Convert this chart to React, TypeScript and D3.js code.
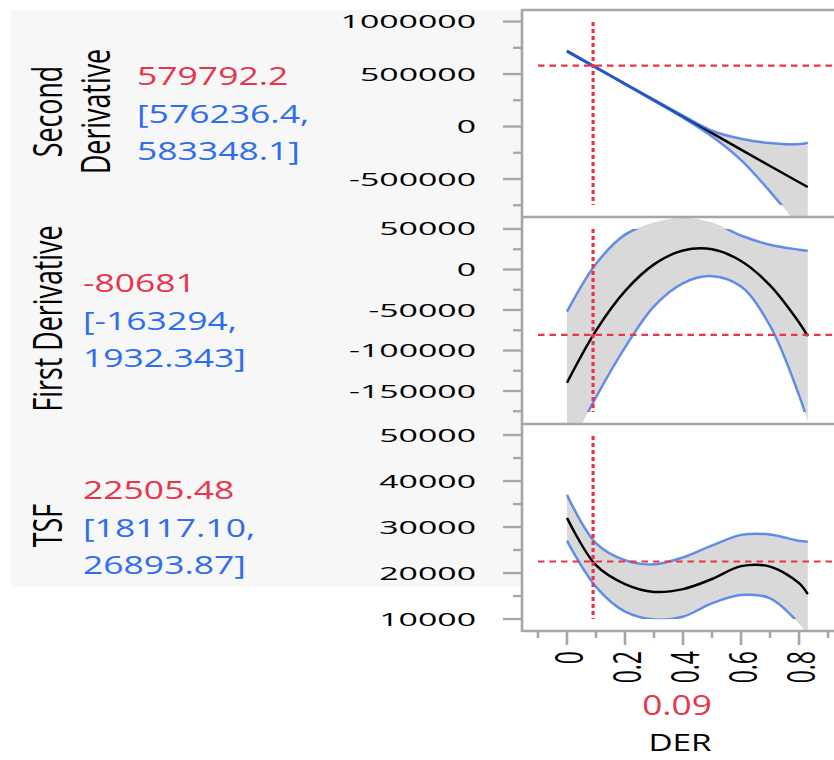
import React from 'react';
import * as d3 from 'd3';

// profile grid along DER
const derGrid = [0, 0.1, 0.2, 0.3, 0.4, 0.5, 0.6, 0.7, 0.8, 0.83];

const secondMid = [719000, 562000, 406000, 250000, 93000, -63000, -220000, -376000, -531000, -576000];
const secondHi = [724000, 565000, 410000, 256000, 103000, -40000, -116000, -157000, -167000, -154000];
const secondLo = [714000, 559000, 402000, 244000, 83000, -95000, -320000, -620000, -960000, -1080000];

const firstMid = [-139800, -75400, -26700, 6300, 23500, 24900, 10500, -19600, -65400, -82300];
const firstHi = [-52100, 7000, 43000, 58000, 64000, 58000, 42000, 30500, 24500, 23200];
const firstLo = [-227500, -157800, -96400, -45400, -17000, -8200, -21000, -69700, -155300, -187800];

const tsfMid = [32000, 21700, 17600, 15900, 16500, 18700, 21500, 21400, 17800, 15400];
const tsfHi = [37000, 26500, 22800, 21900, 23400, 26000, 28300, 28400, 27000, 26800];
const tsfLo = [27000, 17000, 11600, 9900, 10500, 13400, 15200, 14500, 9000, 6500];

const panelNames = [['Second', 'Derivative'], ['First Derivative'], ['TSF']];
const currentText = ['579792.2', '-80681', '22505.48'];
const ciLowText = ['576236.4', '-163294', '18117.10'];
const ciHighText = ['583348.1', '1932.343', '26893.87'];

const yDomains = [[-862000, 1110000], [-190700, 64800], [7400, 52400]];
const yTicks = [
    [1000000, 500000, 0, -500000],
    [50000, 0, -50000, -100000, -150000],
    [50000, 40000, 30000, 20000, 10000]
];
const xDomain = [-0.155, 0.917];
const xTicks = [0, 0.2, 0.4, 0.6, 0.8];
const currentDer = 0.09;
const xTitle = 'DER';

const config = {
    plotLeft: 522,
    plotRight: 833,
    plotTop: 10,
    panelH: 207,
    inset: 12,
    red: '#e8344c',
    blueText: '#2f6df0',
    blueLine: '#2864e6',
    frame: '#a6a6a6',
    band: '#d9d9d9',
    font: "'Open Sans', 'Noto Sans', sans-serif"
};

const panels = [
    { mid: secondMid, hi: secondHi, lo: secondLo },
    { mid: firstMid, hi: firstHi, lo: firstLo },
    { mid: tsfMid, hi: tsfHi, lo: tsfLo }
].map((p, i) => ({
    ...p,
    names: panelNames[i],
    current: currentText[i],
    ciLow: ciLowText[i],
    ciHigh: ciHighText[i],
    domain: yDomains[i],
    ticks: yTicks[i]
}));

// text stretched horizontally, like the original export
function SText({ x, y, sx, rotate, children, ...rest }) {
    const transform = `translate(${x},${y}) scale(${sx},1)` + (rotate ? ' rotate(-90)' : '');
    return <text transform={transform} fontFamily={config.font} {...rest}>{children}</text>;
}

function Panel({ p, index, x }) {
    const { plotLeft, plotRight, plotTop, panelH, inset } = config;
    const top = plotTop + index * panelH;
    const bottom = top + panelH;
    const y = d3.scaleLinear().domain(p.domain).range([bottom, top]);
    const pts = derGrid.map((d, k) => ({ d, mid: p.mid[k], lo: p.lo[k], hi: p.hi[k] }));
    const area = d3.area()
        .x(q => x(q.d)).y0(q => y(q.lo)).y1(q => y(q.hi))
        .curve(d3.curveCatmullRom)(pts);
    const line = key => d3.line().x(q => x(q.d)).y(q => y(q[key])).curve(d3.curveCatmullRom)(pts);

    const step = p.ticks[0] - p.ticks[1];
    const half = step / 2;
    const minors = d3.range(Math.ceil(p.domain[0] / half) * half, p.domain[1], half)
        .filter(v => Math.abs(Math.round(v / half)) % 2 === 1);

    const cy = (top + bottom) / 2;
    const current = parseFloat(p.current);
    const valueX = p.names.length > 1 ? 137 : 83;

    return (
        <g>
            <defs>
                <clipPath id={`band-${index}`}>
                    <rect x={plotLeft} y={top} width={plotRight - plotLeft + 10} height={panelH} />
                </clipPath>
                <clipPath id={`inner-${index}`}>
                    <rect x={plotLeft + 16} y={top + inset} width={plotRight - plotLeft} height={panelH - 2 * inset} />
                </clipPath>
            </defs>
            <path d={area} fill={config.band} clipPath={`url(#band-${index})`} />
            <g clipPath={`url(#inner-${index})`} fill="none">
                <path d={line('mid')} stroke="#000" strokeWidth={2.5} />
                <path d={line('hi')} stroke={config.blueLine} strokeOpacity={0.7} strokeWidth={2.5} />
                <path d={line('lo')} stroke={config.blueLine} strokeOpacity={0.7} strokeWidth={2.5} />
                <line x1={plotLeft + 16} x2={plotRight + 5} y1={y(current)} y2={y(current)}
                      stroke={config.red} strokeWidth={2.2} strokeDasharray="6.5 5" />
                <line x1={x(currentDer)} x2={x(currentDer)} y1={top + inset} y2={bottom - inset}
                      stroke={config.red} strokeWidth={3.2} strokeDasharray="4 3" />
            </g>

            {p.ticks.map(v => (
                <g key={v}>
                    <line x1={plotLeft - 19} x2={plotLeft} y1={y(v)} y2={y(v)} stroke={config.frame} strokeWidth={2.3} />
                    <SText x={476} y={y(v) + 6.5} sx={1.88} fontSize={18} textAnchor="end">{String(v)}</SText>
                </g>
            ))}
            {minors.map(v => (
                <line key={v} x1={plotLeft - 9} x2={plotLeft} y1={y(v)} y2={y(v)} stroke={config.frame} strokeWidth={2.3} />
            ))}

            {p.names.map((n, k) => (
                <SText key={n} x={62 + k * 48} y={cy - 2} sx={1.5} rotate fontSize={26.8} textAnchor="middle">{n}</SText>
            ))}
            <SText x={valueX} y={cy - 28.5} sx={1.42} fontSize={25} fill={config.red}>{p.current}</SText>
            <SText x={valueX} y={cy + 9} sx={1.42} fontSize={25} fill={config.blueText}>{`[${p.ciLow},`}</SText>
            <SText x={valueX} y={cy + 46} sx={1.42} fontSize={25} fill={config.blueText}>{`${p.ciHigh}]`}</SText>
        </g>
    );
}

export default function App() {
    const { plotLeft, plotRight, plotTop, panelH } = config;
    const x = d3.scaleLinear().domain(xDomain).range([plotLeft, plotRight]);
    const plotBottom = plotTop + panelH * panels.length;
    const xMinor = d3.range(-0.1, 0.95, 0.2).map(v => +v.toFixed(1));
    const midX = 678;

    return (
        <svg width={834} height={760} style={{ position: 'absolute', left: 0, top: 0, background: '#fff' }}>
            <rect x={11} y={10} width={plotLeft - 11} height={577} fill="#f7f7f7" />
            {panels.map((p, i) => <Panel key={i} p={p} index={i} x={x} />)}

            {/* frame */}
            <line x1={plotLeft} x2={plotLeft} y1={plotTop - 1} y2={plotBottom + 1} stroke={config.frame} strokeWidth={2.6} />
            {d3.range(panels.length + 1).map(k => (
                <line key={k} x1={plotLeft} x2={plotRight + 10} y1={plotTop + k * panelH} y2={plotTop + k * panelH}
                      stroke={config.frame} strokeWidth={2.6} />
            ))}

            {/* x axis */}
            {xTicks.map(v => (
                <g key={v}>
                    <line x1={x(v)} x2={x(v)} y1={plotBottom} y2={plotBottom + 14} stroke={config.frame} strokeWidth={2.6} />
                    <SText x={x(v) + 16} y={651} sx={1.7} rotate fontSize={23} textAnchor="end">
                        {v === 0 ? '0' : v.toFixed(1)}
                    </SText>
                </g>
            ))}
            {xMinor.map(v => (
                <line key={v} x1={x(v)} x2={x(v)} y1={plotBottom} y2={plotBottom + 7} stroke={config.frame} strokeWidth={2.6} />
            ))}
            <SText x={midX - 1} y={715} sx={1.33} fontSize={26.5} textAnchor="middle" fill={config.red}>{String(currentDer)}</SText>
            <SText x={midX + 2} y={751} sx={1.36} fontSize={24.5} textAnchor="middle">{xTitle}</SText>
        </svg>
    );
}
